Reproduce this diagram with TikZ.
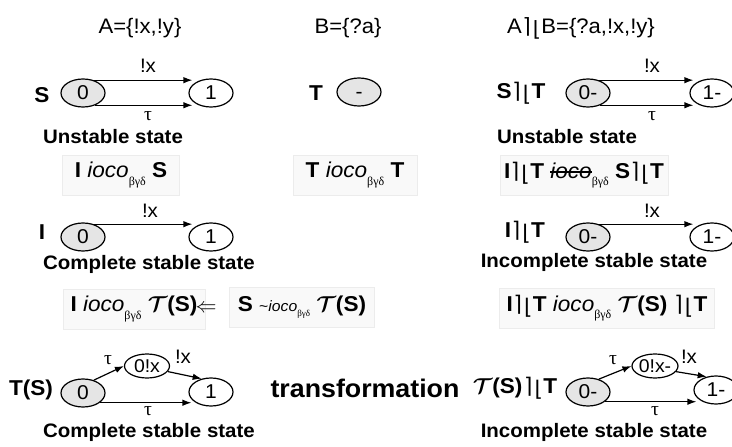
\RequirePackage{fix-cm}
\documentclass[tikz,border=0pt]{standalone}
\usepackage{fontspec}
\setmainfont{Liberation Sans}[FakeStretch=1.05]
\newfontfamily\grk{Liberation Serif}
\newfontfamily\djv{DejaVu Sans}
\usetikzlibrary{shapes.geometric,arrows.meta,calc}

% parallel composition symbol
\newcommand\pc{{\djv\mdseries\kern0.03em⌉\kern0.1em\raisebox{-0.14em}{⌊}\kern0.02em}}
% ioco relation with its subscript
\newcommand\subbgd{\raisebox{-0.35em}{\fontsize{12}{12}\selectfont\grk βγδ}}
\newcommand\ioco{\textit{ioco}\subbgd}
\newcommand\calT{{\boldmath$\mathcal{T}$}}
% struck-through text
\newcommand\strike[1]{\setbox0\hbox{#1}\rlap{\rule[0.26em]{\wd0}{1.1pt}}\box0}

\tikzset{
  stnode/.style={ellipse, draw, line width=1.2pt, minimum width=44pt, minimum height=28pt,
             inner sep=0pt, fill=white, font=\fontsize{20}{20}\selectfont},
  initnode/.style={stnode, fill=gray!20},
  midnode/.style={stnode, minimum width=45pt, minimum height=24pt, font=\fontsize{18.5}{18.5}\selectfont},
  arr/.style={-{Latex[length=9pt,width=6.5pt]}, line width=1.2pt},
  captxt/.style={font=\bfseries\fontsize{19.5}{19.5}\selectfont, inner sep=1pt},
  labtxt/.style={font=\fontsize{19.5}{19.5}\selectfont, inner sep=1pt},
  ttltxt/.style={font=\fontsize{21}{21}\selectfont},
  nmtxt/.style={font=\bfseries\fontsize{21.5}{21.5}\selectfont, inner sep=1pt},
  relbox/.style={draw=gray!15, fill=gray!5, line width=0.8pt, minimum height=40pt,
              inner sep=0pt, font=\fontsize{21.5}{21.5}\selectfont},
}

\begin{document}
\begin{tikzpicture}[x=1pt,y=-1pt]
\useasboundingbox (0,0) rectangle (732,447);
\clip (0,0) rectangle (732,447);

% alphabets
\node[ttltxt] (hA) at (140,28) {A=\{!x,!y\}};
\node[ttltxt] (hB) at (348,28) {B=\{?a\}};
\node[ttltxt] (hAB) at (581,28) {A\pc B=\{?a,!x,!y\}};

% specification S
\node[nmtxt] (nS) at (42,95) {S};
\node[initnode] (s0) at (83,93) {0};
\node[stnode] (s1) at (211,93) {1};
\draw[arr] (s0.50) -- ($(s0.50 -| s1.west)+(4,0)$);
\draw[arr] (s0.-45) -- ($(s0.-45 -| s1.west)+(4,0)$);
\node[labtxt] (sx) at (148,66) {!x};
\node[labtxt] (stau) at (148,116) {\grk τ};
\node[captxt] (su) at (113,137) {Unstable state};

% environment T
\node[nmtxt] (nT) at (316,93) {T};
\node[initnode] (t0) at (359,92) {\vphantom{0}-};

% S || T
\node[nmtxt] (nST) at (521,93) {S\pc T};
\node[initnode] (r0) at (588,93) {0-};
\node[stnode] (r1) at (712,93) {1-};
\draw[arr] (r0.50) -- ($(r0.50 -| r1.west)+(4,0)$);
\draw[arr] (r0.-45) -- ($(r0.-45 -| r1.west)+(4,0)$);
\node[labtxt] (rx) at (652,66) {!x};
\node[labtxt] (rtau) at (652,116) {\grk τ};
\node[captxt] (ru) at (567,137) {Unstable state};

% relations, first row
\node[relbox, minimum width=117pt] (b1) at (121,175) {\textbf{I} \ioco{} \textbf{S}};
\node[relbox, minimum width=124pt] (b2) at (355,175) {\textbf{T} \ioco{} \textbf{T}};
\node[relbox, minimum width=168pt] (b3) at (584,175) {\textbf{I\pc T} \strike{\textit{ioco}}\subbgd{} \textbf{S\pc T}};

% implementation I
\node[nmtxt] (nI) at (42,232) {I};
\node[initnode] (i0) at (83,237) {0};
\node[stnode] (i1) at (211,237) {1};
\draw[arr] (i0.50) -- ($(i0.50 -| i1.west)+(4,0)$);
\node[labtxt] (ix) at (150,211) {!x};
\node[captxt] (ic) at (149,264) {Complete stable state};

% I || T
\node[nmtxt] (nIT) at (525,232) {I\pc T};
\node[initnode] (j0) at (588,237) {0-};
\node[stnode] (j1) at (712,237) {1-};
\draw[arr] (j0.50) -- ($(j0.50 -| j1.west)+(4,0)$);
\node[labtxt] (jx) at (652,211) {!x};
\node[captxt] (jc) at (594,262) {Incomplete stable state};

% relations, second row
\node[relbox, minimum width=142pt] (c1) at (134,309) {\textbf{I} \ioco{} \calT\textbf{(S)}\hspace{14pt}};
\node[font=\fontsize{21}{21}\selectfont] (impl) at (206,309) {$\Leftarrow$};
\node[relbox, minimum width=145pt] (c2) at (302,307) {\textbf{S} {\fontsize{15}{15}\selectfont\char`\~\textit{ioco}\raisebox{-0.35em}{\fontsize{9}{9}\selectfont\grk βγδ}} \calT\textbf{(S)}};
\node[relbox, minimum width=215pt] (c3) at (607,308) {\textbf{I\pc T} \ioco{} \calT\textbf{(S)} \textbf{\pc T}};

% transformed specification
\node[nmtxt] (nTS) at (31,390) {T(S)};
\node[initnode] (u0) at (83,393) {0};
\node[midnode] (ux) at (147,366) {0!x};
\node[stnode] (u1) at (211,392) {1};
\draw[arr] (u0.50) -- (ux.west);
\draw[arr] (ux.-15) -- (u1.125);
\draw[arr] (u0.-30) -- ($(u0.-30 -| u1.west)+(3,0)$);
\node[labtxt] (utau1) at (108,360) {\grk τ};
\node[labtxt] (ux2) at (183,357) {!x};
\node[labtxt] (utau2) at (148,411) {\grk τ};
\node[captxt] (uc) at (149,432) {Complete stable state};

\node[font=\bfseries\fontsize{25.5}{25.5}\selectfont] (tr) at (365,388) {transformation};

% transformed specification composed with T
\node[nmtxt] (nTT) at (515,388) {\calT(S)\kern1pt\pc T};
\node[initnode] (v0) at (588,392) {0-};
\node[midnode, minimum width=46pt] (vx) at (655,366) {0!x-};
\node[stnode] (v1) at (716,390) {1-};
\draw[arr] (v0.50) -- (vx.west);
\draw[arr] (vx.-15) -- (v1.125);
\draw[arr] (v0.-30) -- ($(v0.-30 -| v1.west)+(3,0)$);
\node[labtxt] (vtau1) at (613,360) {\grk τ};
\node[labtxt] (vx2) at (689,357) {!x};
\node[labtxt] (vtau2) at (655,411) {\grk τ};
\node[captxt] (vc) at (594,432) {Incomplete stable state};
\end{tikzpicture}
\end{document}
